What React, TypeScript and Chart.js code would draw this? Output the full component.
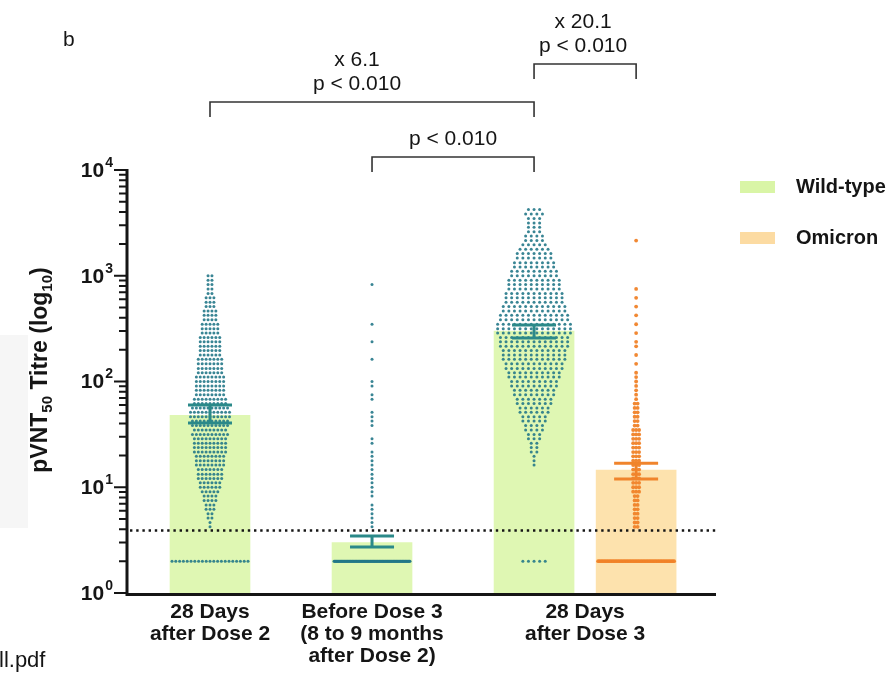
import React, { useEffect, useRef } from 'react';
import { Chart, registerables } from 'chart.js';

Chart.register(...registerables);

// ---- data -------------------------------------------------------------

const categoryLabels: string[][] = [
  ['28 Days', 'after Dose 2'],
  ['Before Dose 3', '(8 to 9 months', 'after Dose 2)'],
  ['28 Days', 'after Dose 3'],
];
const seriesNames = ['Wild-type', 'Omicron'];

// x positions of the bars on the linear x axis
const wildTypePositions = [1, 2, 3];
const omicronPositions = [3.63];
const categoryLabelPositions = [1, 2, 3.315];

// geometric mean titres with 95% CI
const wildTypeGmt = [48, 3.0, 300];
const wildTypeCiLow = [40.5, 2.72, 258];
const wildTypeCiHigh = [60, 3.46, 342];
const omicronGmt = [14.5];
const omicronCiLow = [12.0];
const omicronCiHigh = [16.9];

// lower limit of quantification (dotted line)
const lloq = 3.9;

const yTickExponents = ['0', '1', '2', '3', '4'];
const yTickValues = [1, 10, 100, 1000, 10000];

// titre levels of individual sera (values below LLOQ are shown at 2)
const titreLevels = [
  2,
  4.22, 4.64, 5.11, 5.62, 6.19, 6.81, 7.5, 8.25, 9.09,
  10, 11, 12.1, 13.3, 14.7, 16.2, 17.8, 19.6, 21.5, 23.7, 26.1, 28.7,
  31.6, 34.8, 38.3, 42.2, 46.4, 51.1, 56.2, 61.9, 68.1, 75, 82.5, 90.9,
  100, 110, 121, 133, 147, 162, 178, 196, 215, 237, 261, 287,
  316, 348, 383, 422, 464, 511, 562, 619, 681, 750, 825, 909,
  1000, 1100, 1210, 1330, 1470, 1620, 1780, 1960, 2150, 2370, 2610, 2870,
  3160, 3480, 3830, 4220,
];

// number of sera at each titre level
const wtAfterDose2Counts = [
  21,
  1, 1, 2, 2, 3, 3, 4, 4, 5,
  6, 6, 7, 7, 7, 8, 8, 8, 9, 9, 9, 9,
  10, 9, 10, 10, 11, 11, 10, 9, 9, 8, 8, 8,
  8, 8, 7, 7, 7, 7, 6, 6, 6, 6, 6, 5,
  5, 5, 4, 4, 4, 3, 3, 3, 2, 2, 2, 2,
  2, 0, 0, 0, 0, 0, 0, 0, 0, 0, 0, 0,
  0, 0, 0, 0,
];
const wtBeforeDose3Counts = [
  120,
  1, 1, 1, 1, 1, 1, 0, 1, 1,
  1, 1, 1, 1, 1, 1, 1, 1, 1, 0, 1, 1,
  0, 0, 1, 1, 1, 1, 0, 0, 1, 1, 0, 1,
  1, 0, 0, 0, 0, 1, 0, 0, 0, 1, 0, 0,
  0, 1, 0, 0, 0, 0, 0, 0, 0, 0, 1, 0,
  0, 0, 0, 0, 0, 0, 0, 0, 0, 0, 0, 0,
  0, 0, 0, 0,
];
const wtAfterDose3Counts = [
  5,
  0, 0, 0, 0, 0, 0, 0, 0, 0,
  0, 0, 0, 0, 0, 1, 1, 1, 2, 2, 2, 3,
  3, 4, 4, 5, 5, 6, 6, 7, 7, 8, 8, 9,
  9, 10, 10, 11, 11, 12, 12, 12, 13, 13, 13, 14,
  14, 14, 13, 13, 12, 12, 11, 11, 11, 10, 10, 10,
  9, 9, 8, 8, 7, 7, 6, 5, 4, 4, 3, 3,
  3, 3, 4, 3,
];
const omicronAfterDose3Counts = [
  50,
  2, 2, 2, 2, 2, 2, 2, 2, 3,
  3, 3, 3, 3, 3, 3, 3, 3, 3, 3, 3, 3,
  3, 3, 2, 2, 2, 2, 2, 2, 1, 1, 1, 1,
  1, 1, 1, 0, 1, 0, 1, 0, 1, 1, 0, 1,
  0, 1, 0, 1, 0, 1, 0, 1, 0, 1, 0, 0,
  0, 0, 0, 0, 0, 0, 0, 0, 1, 0, 0, 0,
  0, 0, 0, 0,
];

// pairwise comparisons drawn above the plot
const comparisonFrom = [1, 2, 3];
const comparisonTo = [3, 3, 3.63];
const comparisonFold = ['x 6.1', '', 'x 20.1'];
const comparisonP = ['p < 0.010', 'p < 0.010', 'p < 0.010'];

// ---- layout & styles ----------------------------------------------------

const W = 893;
const H = 680;
const PAD = { left: 127, right: 177, top: 170, bottom: 87 };
const X_MIN = 0.4877;
const X_MAX = 4.123;
const PX_PER_UNIT = (W - PAD.left - PAD.right) / (X_MAX - X_MIN);

const FONT = "'Liberation Sans', Arial, Helvetica, sans-serif";
const INK = '#151515';
const GREEN_BAR = '#dff7b3';
const ORANGE_BAR = '#fde2ad';
const TEAL_DOT = 'rgba(36, 120, 136, 0.9)';
const TEAL_ERR = '#2b8989';
const ORANGE_DOT = 'rgba(240, 130, 40, 0.95)';
const ORANGE_ERR = '#f0842c';

// lay out the dots of one group in rows, centred on the group position
function swarmPoints(center: number, counts: number[], stepPx: number, maxHalfPx: number) {
  const pts: { x: number; y: number }[] = [];
  counts.forEach((n, i) => {
    if (!n) return;
    const step = n > 1 ? Math.min(stepPx, (2 * maxHalfPx) / (n - 1)) : 0;
    for (let k = 0; k < n; k++) {
      pts.push({ x: center + ((k - (n - 1) / 2) * step) / PX_PER_UNIT, y: titreLevels[i] });
    }
  });
  return pts;
}

function drawSuperscriptLabel(ctx: CanvasRenderingContext2D, base: string, sup: string, xRight: number, yMid: number) {
  ctx.font = `bold 21px ${FONT}`;
  const wb = ctx.measureText(base).width;
  ctx.font = `bold 14px ${FONT}`;
  const ws = ctx.measureText(sup).width;
  const x0 = xRight - wb - ws - 1;
  ctx.textAlign = 'left';
  ctx.textBaseline = 'middle';
  ctx.font = `bold 21px ${FONT}`;
  ctx.fillText(base, x0, yMid + 1);
  ctx.font = `bold 14px ${FONT}`;
  ctx.fillText(sup, x0 + wb + 1, yMid - 7);
}

function drawAxisTitle(ctx: CanvasRenderingContext2D, cx: number, cy: number) {
  const parts: [string, boolean][] = [
    ['pVNT', false],
    ['50', true],
    [' Titre (log', false],
    ['10', true],
    [')', false],
  ];
  const fontFor = (sub: boolean) => (sub ? `bold 15px ${FONT}` : `bold 23px ${FONT}`);
  let total = 0;
  const widths = parts.map(([t, sub]) => {
    ctx.font = fontFor(sub);
    const w = ctx.measureText(t).width;
    total += w;
    return w;
  });
  ctx.save();
  ctx.translate(cx, cy);
  ctx.rotate(-Math.PI / 2);
  ctx.textAlign = 'left';
  ctx.textBaseline = 'middle';
  let x = -total / 2;
  parts.forEach(([t, sub], i) => {
    ctx.font = fontFor(sub);
    ctx.fillText(t, x, sub ? 7 : 0);
    x += widths[i];
  });
  ctx.restore();
}

const figureDecor = {
  id: 'figureDecor',
  afterDatasetsDraw(chart: any) {
    const ctx: CanvasRenderingContext2D = chart.ctx;
    const xs = chart.scales.x;
    const ys = chart.scales.y;
    const area = chart.chartArea;

    // LLOQ dotted line
    ctx.save();
    ctx.strokeStyle = INK;
    ctx.lineWidth = 2.4;
    ctx.setLineDash([2.4, 3.8]);
    const yl = ys.getPixelForValue(lloq);
    ctx.beginPath();
    ctx.moveTo(area.left + 3, yl);
    ctx.lineTo(area.right, yl);
    ctx.stroke();
    ctx.restore();

    // 95% CI error bars
    const errBar = (pos: number, lo: number, hi: number, color: string) => {
      const x = xs.getPixelForValue(pos);
      const y0 = ys.getPixelForValue(lo);
      const y1 = ys.getPixelForValue(hi);
      ctx.save();
      ctx.strokeStyle = color;
      ctx.lineWidth = 3;
      ctx.beginPath();
      ctx.moveTo(x, y0);
      ctx.lineTo(x, y1);
      ctx.moveTo(x - 22, y0);
      ctx.lineTo(x + 22, y0);
      ctx.moveTo(x - 22, y1);
      ctx.lineTo(x + 22, y1);
      ctx.stroke();
      ctx.restore();
    };
    wildTypePositions.forEach((p, i) => errBar(p, wildTypeCiLow[i], wildTypeCiHigh[i], TEAL_ERR));
    omicronPositions.forEach((p, i) => errBar(p, omicronCiLow[i], omicronCiHigh[i], ORANGE_ERR));
  },
  afterDraw(chart: any) {
    const ctx: CanvasRenderingContext2D = chart.ctx;
    const xs = chart.scales.x;
    const ys = chart.scales.y;
    const area = chart.chartArea;
    ctx.save();

    // faint page shading at the left edge
    ctx.fillStyle = '#f6f6f6';
    ctx.fillRect(0, 335, 28, 193);

    // axes
    ctx.strokeStyle = INK;
    ctx.lineWidth = 3;
    ctx.beginPath();
    ctx.moveTo(area.left, area.top - 1);
    ctx.lineTo(area.left, area.bottom + 1.5);
    ctx.lineTo(area.right, area.bottom + 1.5);
    ctx.stroke();

    // y ticks: decades and minor ticks
    ctx.lineWidth = 2;
    ctx.beginPath();
    for (let d = 0; d < yTickValues.length; d++) {
      const base = yTickValues[d];
      const y = ys.getPixelForValue(base);
      ctx.moveTo(area.left - 13, y);
      ctx.lineTo(area.left, y);
      if (d < yTickValues.length - 1) {
        for (let m = 2; m <= 9; m++) {
          const ym = ys.getPixelForValue(base * m);
          ctx.moveTo(area.left - 8, ym);
          ctx.lineTo(area.left, ym);
        }
      }
    }
    ctx.stroke();

    ctx.fillStyle = INK;
    yTickValues.forEach((v, i) => {
      drawSuperscriptLabel(ctx, '10', yTickExponents[i], area.left - 14, ys.getPixelForValue(v));
    });

    // axis title
    drawAxisTitle(ctx, 41, 370);

    // category labels
    ctx.font = `bold 21px ${FONT}`;
    ctx.textAlign = 'center';
    ctx.textBaseline = 'middle';
    categoryLabels.forEach((lines, i) => {
      const x = xs.getPixelForValue(categoryLabelPositions[i]);
      lines.forEach((t, j) => ctx.fillText(t, x, area.bottom + 19 + j * 22));
    });

    // legend
    const legendColors = ['#d9f5a6', '#fcdba2'];
    seriesNames.forEach((name, i) => {
      const y = 187 + i * 51;
      ctx.fillStyle = legendColors[i];
      ctx.fillRect(740, y - 6, 35, 12);
      ctx.fillStyle = INK;
      ctx.font = `bold 20px ${FONT}`;
      ctx.textAlign = 'left';
      ctx.fillText(name, 796, y);
    });

    // comparison brackets
    const bracketY = [102, 157, 64];
    const labelShift = [-15, 0, -2];
    ctx.strokeStyle = '#333';
    ctx.lineWidth = 1.6;
    comparisonFrom.forEach((from, i) => {
      const x0 = xs.getPixelForValue(from);
      const x1 = xs.getPixelForValue(comparisonTo[i]);
      const y = bracketY[i];
      ctx.beginPath();
      ctx.moveTo(x0, y + 15);
      ctx.lineTo(x0, y);
      ctx.lineTo(x1, y);
      ctx.lineTo(x1, y + 15);
      ctx.stroke();
      const cx = (x0 + x1) / 2 + labelShift[i];
      ctx.fillStyle = INK;
      ctx.font = `21px ${FONT}`;
      ctx.textAlign = 'center';
      ctx.fillText(comparisonP[i], cx, y - 18);
      if (comparisonFold[i]) ctx.fillText(comparisonFold[i], cx, y - 42);
    });

    // panel letter and file name fragment
    ctx.textAlign = 'left';
    ctx.font = `21px ${FONT}`;
    ctx.fillText('b', 63, 40);
    ctx.font = `22px ${FONT}`;
    ctx.fillText('ll.pdf', -1, 661);

    ctx.restore();
  },
};

export default function App() {
  const canvasRef = useRef<HTMLCanvasElement | null>(null);

  useEffect(() => {
    const canvas = canvasRef.current;
    if (!canvas) return;

    const dotSet = (center: number, counts: number[], color: string, radius: number, step: number) => ({
      type: 'scatter' as const,
      data: swarmPoints(center, counts, step, 38),
      backgroundColor: color,
      borderWidth: 0,
      pointRadius: radius,
      pointHoverRadius: radius,
      order: 1,
    });

    const chart = new Chart(canvas, {
      type: 'bar',
      data: {
        datasets: [
          dotSet(wildTypePositions[0], wtAfterDose2Counts, TEAL_DOT, 1.5, 3.9),
          dotSet(wildTypePositions[1], wtBeforeDose3Counts, TEAL_DOT, 1.5, 3.9),
          dotSet(wildTypePositions[2], wtAfterDose3Counts, TEAL_DOT, 1.5, 5.6),
          dotSet(omicronPositions[0], omicronAfterDose3Counts, ORANGE_DOT, 1.9, 3),
          {
            type: 'bar' as const,
            label: seriesNames[0],
            data: wildTypePositions.map((x, i) => ({ x, y: wildTypeGmt[i] })),
            backgroundColor: GREEN_BAR,
            barThickness: 80,
            grouped: false,
            order: 3,
          },
          {
            type: 'bar' as const,
            label: seriesNames[1],
            data: omicronPositions.map((x, i) => ({ x, y: omicronGmt[i] })),
            backgroundColor: ORANGE_BAR,
            barThickness: 80,
            grouped: false,
            order: 3,
          },
        ] as any,
      },
      options: {
        animation: false,
        responsive: false,
        maintainAspectRatio: false,
        layout: { padding: PAD },
        scales: {
          x: { type: 'linear', min: X_MIN, max: X_MAX, offset: false, display: false },
          y: { type: 'logarithmic', min: 1, max: 10000, display: false },
        },
        plugins: {
          legend: { display: false },
          tooltip: { enabled: false },
        },
      },
      plugins: [figureDecor],
    });

    return () => chart.destroy();
  }, []);

  return (
    <div style={{ position: 'absolute', left: 0, top: 0, width: W, height: H, background: '#fff' }}>
      <canvas ref={canvasRef} width={W} height={H} style={{ width: W, height: H, display: 'block' }} />
    </div>
  );
}
